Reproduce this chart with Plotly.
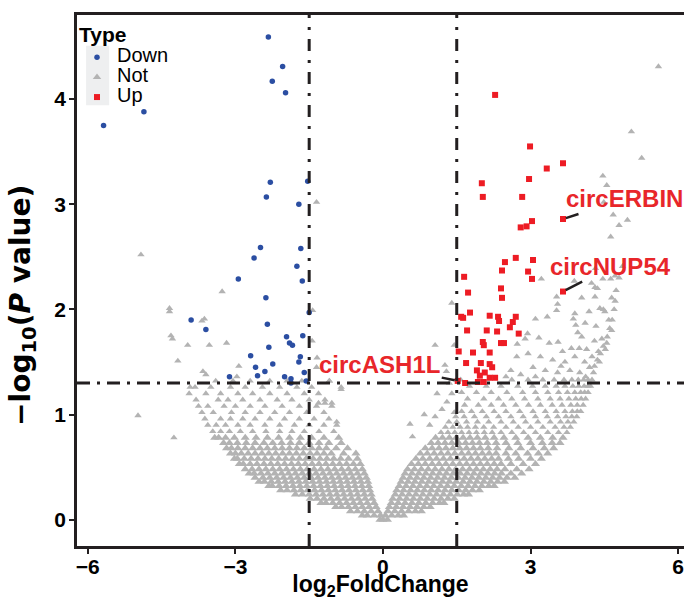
import plotly.graph_objects as go

# ---------------- data ----------------
down_x = [-2.33, -2.04, -2.25, -1.98, -4.86, -5.68, -2.29, -1.53, -2.37, -1.71, -2.49, -1.67, -2.62,
          -1.75, -2.94, -1.64, -2.38, -1.50, -3.90, -2.35, -3.60, -1.96, -1.63, -1.90, -1.84, -2.32,
          -2.69, -1.68, -1.71, -2.24, -2.59, -2.40, -2.55, -1.60, -3.12, -2.00, -1.87, -1.87, -1.56]
down_y = [4.59, 4.31, 4.17, 4.06, 3.88, 3.75, 3.21, 3.22, 3.07, 3.00, 2.59, 2.58, 2.49,
          2.41, 2.29, 2.27, 2.11, 1.97, 1.90, 1.86, 1.81, 1.74, 1.75, 1.68, 1.66, 1.64,
          1.56, 1.55, 1.50, 1.48, 1.45, 1.41, 1.37, 1.40, 1.36, 1.36, 1.34, 1.30, 1.32]

up_x = [2.28, 2.99, 3.66, 3.33, 2.97, 2.01, 2.03, 2.83, 3.66, 3.03, 2.92, 2.80, 2.70, 2.48,
        3.05, 2.42, 2.95, 1.65, 3.03, 1.73, 2.40, 2.42, 3.66, 1.77, 1.59, 1.63, 2.17, 2.34,
        2.36, 2.70, 2.64, 2.58, 1.71, 2.11, 2.32, 2.76, 2.03, 2.05, 2.40, 2.46, 1.54, 1.83,
        2.17, 1.69, 1.99, 2.17, 2.22, 1.91, 2.07, 1.97, 2.17, 2.28, 1.93, 2.05, 1.52, 1.67]
up_y = [4.04, 3.55, 3.39, 3.34, 3.24, 3.20, 3.07, 3.07, 2.86, 2.84, 2.79, 2.78, 2.49, 2.45,
        2.47, 2.37, 2.36, 2.31, 2.29, 2.16, 2.20, 2.11, 2.17, 1.97, 1.93, 1.92, 1.94, 1.93,
        1.89, 1.93, 1.88, 1.83, 1.80, 1.80, 1.79, 1.77, 1.69, 1.66, 1.68, 1.68, 1.60, 1.59,
        1.59, 1.49, 1.49, 1.48, 1.45, 1.42, 1.40, 1.37, 1.35, 1.35, 1.31, 1.31, 1.32, 1.30]

# "Not" points, right half, read row by row: (-log10 P level, log2FC positions)
not_rows_right = [
    (0.00, [0.0, 0.09]),
    (0.04, [0.05, 0.18, 0.31, 0.42]),
    (0.08, [0.1, 0.24, 0.38, 0.52, 0.66, 0.78]),
    (0.12, [0.13, 0.27, 0.41, 0.55, 0.69, 0.83, 0.96]),
    (0.16, [0.17, 0.31, 0.45, 0.59, 0.73, 0.87, 1.01, 1.15, 1.24]),
    (0.20, [0.2, 0.34, 0.48, 0.62, 0.76, 0.9, 1.04, 1.18, 1.32, 1.45]),
    (0.24, [0.25, 0.39, 0.53, 0.67, 0.81, 0.95, 1.09, 1.23, 1.37, 1.51, 1.64, 1.74]),
    (0.28, [0.28, 0.42, 0.56, 0.7, 0.84, 0.98, 1.12, 1.26, 1.4, 1.54, 1.68, 1.82, 1.96]),
    (0.32, [0.33, 0.47, 0.61, 0.75, 0.89, 1.03, 1.17, 1.31, 1.45, 1.59, 1.73, 1.87, 2.01, 2.15, 2.26]),
    (0.36, [0.37, 0.51, 0.65, 0.79, 0.93, 1.07, 1.21, 1.35, 1.49, 1.63, 1.77, 1.91, 2.05, 2.19, 2.33, 2.47]),
    (0.40, [0.41, 0.55, 0.69, 0.83, 0.97, 1.11, 1.25, 1.39, 1.53, 1.67, 1.81, 1.95, 2.09, 2.23, 2.37, 2.52, 2.68]),
    (0.44, [0.45, 0.59, 0.73, 0.87, 1.01, 1.15, 1.29, 1.43, 1.57, 1.71, 1.85, 1.99, 2.13, 2.27, 2.41, 2.6, 2.82]),
    (0.48, [0.5, 0.64, 0.78, 0.92, 1.06, 1.2, 1.34, 1.48, 1.62, 1.76, 1.9, 2.04, 2.18, 2.32, 2.48, 2.72, 2.97]),
    (0.53, [0.58, 0.72, 0.86, 1.0, 1.14, 1.28, 1.42, 1.56, 1.7, 1.84, 1.98, 2.12, 2.26, 2.4, 2.6, 2.85, 3.1]),
    (0.58, [0.67, 0.81, 0.95, 1.09, 1.23, 1.37, 1.51, 1.65, 1.79, 1.93, 2.07, 2.21, 2.35, 2.55, 2.76, 3.0, 3.22]),
    (0.63, [0.76, 0.9, 1.04, 1.18, 1.32, 1.46, 1.6, 1.74, 1.88, 2.02, 2.16, 2.3, 2.5, 2.7, 2.94, 3.16, 3.35]),
    (0.68, [0.86, 1.0, 1.14, 1.28, 1.42, 1.56, 1.7, 1.84, 1.98, 2.14, 2.32, 2.56, 2.8, 3.05, 3.28, 3.47]),
    (0.73, [0.98, 1.12, 1.26, 1.4, 1.54, 1.68, 1.82, 1.96, 2.12, 2.3, 2.5, 2.74, 3.0, 3.24, 3.44, 3.6]),
    (0.78, [1.07, 1.21, 1.35, 1.49, 1.63, 1.77, 1.92, 2.08, 2.26, 2.46, 2.7, 2.95, 3.2, 3.45, 3.66]),
    (0.83, [1.18, 1.32, 1.46, 1.6, 1.75, 1.9, 2.06, 2.22, 2.4, 2.62, 2.86, 3.1, 3.35, 3.57, 3.74]),
    (0.88, [1.27, 1.42, 1.57, 1.72, 1.88, 2.05, 2.25, 2.5, 2.75, 3.0, 3.25, 3.5, 3.68, 3.81]),
    (0.93, [1.34, 1.5, 1.7, 1.92, 2.15, 2.4, 2.65, 2.9, 3.15, 3.4, 3.61, 3.76, 3.88]),
    (0.98, [1.48, 1.65, 1.86, 2.1, 2.35, 2.6, 2.85, 3.1, 3.34, 3.55, 3.72, 3.84, 3.94]),
    (1.03, [1.6, 1.8, 2.02, 2.26, 2.5, 2.78, 3.05, 3.3, 3.52, 3.7, 3.85, 3.95, 4.02]),
    (1.09, [1.66, 1.94, 2.2, 2.45, 2.7, 2.96, 3.2, 3.44, 3.64, 3.82, 3.95, 4.07]),
    (1.15, [1.72, 2.05, 2.35, 2.62, 2.88, 3.15, 3.4, 3.6, 3.78, 3.92, 4.03, 4.12]),
    (1.21, [1.6, 1.9, 2.2, 2.52, 2.84, 3.1, 3.35, 3.57, 3.75, 3.9, 4.02, 4.1, 4.17]),
    (1.27, [1.76, 2.1, 2.4, 2.74, 3.04, 3.3, 3.52, 3.7, 3.86, 3.98, 4.09, 4.17, 4.22]),
    (1.33, [1.58, 2.62, 2.95, 3.25, 3.48, 3.68, 3.84, 3.97, 4.08, 4.17, 4.25]),
]

# "Not" points, left half, read row by row
not_rows_left = [
    (0.00, [-0.06]),
    (0.04, [-0.05, -0.18, -0.32, -0.42]),
    (0.08, [-0.1, -0.24, -0.38, -0.52, -0.66]),
    (0.12, [-0.14, -0.28, -0.42, -0.56, -0.7, -0.84, -0.96]),
    (0.16, [-0.18, -0.32, -0.46, -0.6, -0.74, -0.88, -1.02, -1.16, -1.26]),
    (0.20, [-0.22, -0.36, -0.5, -0.64, -0.78, -0.92, -1.06, -1.2, -1.34, -1.48]),
    (0.24, [-0.24, -0.38, -0.52, -0.66, -0.8, -0.94, -1.08, -1.22, -1.36, -1.5, -1.64, -1.78]),
    (0.28, [-0.27, -0.41, -0.55, -0.69, -0.83, -0.97, -1.11, -1.25, -1.39, -1.53, -1.67, -1.81, -1.95, -2.08]),
    (0.32, [-0.29, -0.43, -0.57, -0.71, -0.85, -0.99, -1.13, -1.27, -1.41, -1.55, -1.69, -1.83, -1.97, -2.11, -2.25, -2.32]),
    (0.36, [-0.31, -0.45, -0.59, -0.73, -0.87, -1.01, -1.15, -1.29, -1.43, -1.57, -1.71, -1.85, -1.99, -2.13, -2.27, -2.41, -2.52]),
    (0.40, [-0.34, -0.48, -0.62, -0.76, -0.9, -1.04, -1.18, -1.32, -1.46, -1.6, -1.74, -1.88, -2.02, -2.16, -2.3, -2.44, -2.6]),
    (0.44, [-0.38, -0.52, -0.66, -0.8, -0.94, -1.08, -1.22, -1.36, -1.5, -1.64, -1.78, -1.92, -2.06, -2.2, -2.34, -2.48, -2.62, -2.72]),
    (0.48, [-0.42, -0.56, -0.7, -0.84, -0.98, -1.12, -1.26, -1.4, -1.54, -1.68, -1.82, -1.96, -2.1, -2.24, -2.38, -2.52, -2.66, -2.8]),
    (0.53, [-0.46, -0.6, -0.74, -0.88, -1.02, -1.16, -1.3, -1.44, -1.58, -1.72, -1.86, -2.0, -2.14, -2.28, -2.42, -2.56, -2.7, -2.84, -2.92]),
    (0.58, [-0.52, -0.7, -0.86, -1.0, -1.14, -1.28, -1.42, -1.56, -1.7, -1.84, -1.98, -2.12, -2.26, -2.4, -2.54, -2.68, -2.82, -2.96, -3.02]),
    (0.63, [-0.55, -0.8, -1.05, -1.2, -1.34, -1.48, -1.62, -1.76, -1.9, -2.04, -2.18, -2.32, -2.46, -2.6, -2.74, -2.88, -3.0, -3.1]),
    (0.68, [-0.72, -0.95, -1.15, -1.3, -1.45, -1.6, -1.75, -1.9, -2.05, -2.2, -2.35, -2.5, -2.65, -2.8, -2.95, -3.08, -3.18]),
    (0.73, [-0.85, -1.1, -1.3, -1.5, -1.7, -1.88, -2.06, -2.24, -2.42, -2.6, -2.78, -2.96, -3.12, -3.24]),
    (0.78, [-0.9, -1.2, -1.45, -1.68, -1.9, -2.12, -2.35, -2.58, -2.8, -3.02, -3.2, -3.34, -3.42]),
    (0.84, [-1.0, -1.3, -1.6, -1.85, -2.1, -2.38, -2.65, -2.9, -3.12, -3.3, -3.46]),
    (0.90, [-0.94, -1.2, -1.5, -1.8, -2.1, -2.4, -2.7, -2.95, -3.2, -3.39, -3.56]),
    (0.96, [-1.1, -1.4, -1.7, -2.0, -2.3, -2.6, -2.85, -3.1, -3.3, -3.62]),
    (1.02, [-1.2, -1.55, -1.9, -2.2, -2.5, -2.8, -3.08, -3.45, -3.68]),
    (1.08, [-1.04, -1.35, -1.7, -2.05, -2.4, -2.7, -3.0, -3.23, -3.56, -3.75]),
    (1.14, [-1.18, -1.5, -1.85, -2.15, -2.5, -2.85, -3.15, -3.35, -3.8]),
    (1.20, [-1.31, -1.6, -1.95, -2.3, -2.65, -2.95, -3.3, -3.6, -3.94]),
    (1.26, [-0.85, -1.45, -1.75, -2.1, -2.45, -2.8, -3.1, -3.5, -3.82, -3.92]),
    (1.32, [-1.09, -1.65, -1.95, -2.3, -2.7, -3.05, -3.4]),
]

# scattered "Not" points outside the dense cloud
not_extra_x = [3.22, 3.89, 4.24, 4.31, 4.36, 4.47, 4.63, 4.72, 4.80, 4.32, 4.87, 4.63, 4.47, 4.55, 4.49,
               4.68, 4.80, 4.97, 5.05, 5.26, 5.60, 3.53, 3.55, 3.53, 4.04, 4.31, 4.65, 4.48, 4.19, 3.90,
               4.41, 4.59, 4.51, 3.34, 3.10, 3.87, 3.92, 4.11, 4.33, 4.65, 3.96, 4.04, 2.94, 2.73, 3.17,
               3.38, 3.56, 3.83, 3.99, 4.14, 4.30, 4.45, 4.55, 3.65, 2.89, 2.72, 2.95, 3.20, 3.45, 3.70,
               3.90, 4.10, 4.25, 4.38, 3.05, 3.30, 3.55, 3.80, 4.00, 4.20, 4.28, 2.60, 2.80, 2.50, 3.10,
               3.62, 4.12, 4.30, 4.36, 4.42, 4.48, 4.56, 4.61, 4.66, 4.70, 4.72, 4.74, 4.40, 4.52,
               1.40, 1.45, 1.26, 1.06, 1.29, 0.55, 0.60, 0.84, 1.06, 1.20, 1.30, 1.40, 1.45, 0.95,
               1.10, 1.35,
               -4.92, -1.35, -3.27, -4.34, -4.34, -1.43, -3.68, -3.63, -4.31, -4.28, -1.44, -3.97,
               -3.53, -3.18, -1.34, -4.17, -2.93, -3.66, -3.60, -1.35, -2.97, -1.09, -0.85, -4.98,
               -4.25, -0.94, -1.04, -1.18, -1.31]
not_extra_y = [2.29, 2.27, 2.25, 2.21, 2.20, 2.29, 2.29, 2.32, 2.30, 2.39, 2.41, 2.69, 3.27, 3.18, 3.02,
               2.90, 2.80, 2.85, 3.69, 3.44, 4.31, 2.12, 2.05, 1.99, 2.11, 2.12, 2.11, 2.00, 1.98, 1.96,
               2.01, 1.90, 1.98, 1.93, 1.91, 1.91, 1.85, 1.87, 1.84, 1.80, 1.78, 1.74, 1.77, 1.67, 1.73,
               1.68, 1.69, 1.63, 1.63, 1.62, 1.70, 1.72, 1.68, 1.60, 1.72, 1.55, 1.58, 1.55, 1.52, 1.50,
               1.55, 1.50, 1.55, 1.60, 1.45, 1.42, 1.40, 1.42, 1.40, 1.45, 1.40, 1.42, 1.38, 1.36, 1.36,
               1.46, 1.36, 1.46, 1.52, 1.58, 1.65, 1.74, 1.82, 1.90, 2.00, 2.08, 2.18, 1.50, 1.62,
               2.06, 1.66, 1.47, 1.66, 1.41, 0.91, 0.79, 1.00, 0.98, 1.05, 1.12, 1.20, 1.02, 0.90,
               1.20, 1.30,
               2.52, 3.02, 2.17, 2.01, 1.98, 1.99, 1.89, 1.91, 1.75, 1.72, 1.70, 1.66,
               1.66, 1.68, 1.54, 1.51, 1.46, 1.41, 1.38, 1.45, 1.36, 1.32, 1.24, 0.99,
               0.78, 0.93, 1.11, 1.11, 1.11]

labels = ["circERBIN", "circNUP54", "circASH1L"]
label_x = [3.66, 3.66, 1.52]
label_y = [2.86, 2.17, 1.32]

x_ticks = [-6, -3, 0, 3, 6]
y_ticks = [0, 1, 2, 3, 4]
fc_cut = 1.5
p_cut = 1.301

# ---------------- build ----------------
FONT = "Liberation Sans, Arial, Helvetica, sans-serif"
WIDE = "DejaVu Sans, Liberation Sans, Arial, sans-serif"
BLUE = "#2b4ea2"
RED = "#ed1c24"
GREY = "#b3b3b3"
INK = "#231f20"

not_x, not_y, not_size = [], [], []
for yy, xs in not_rows_right + not_rows_left:
    for xx in xs:
        not_x.append(xx)
        not_y.append(yy)
        # overplotted (dense) part of the cloud drawn a touch larger so it reads as solid
        not_size.append(8 if yy < 0.8 else 6.5)
not_x += not_extra_x
not_y += not_extra_y
not_size += [6.5] * len(not_extra_x)


def legend_name(t):
    return '<span style="font-size:20px">%s</span>' % t


fig = go.Figure()
fig.add_trace(go.Scatter(x=not_x, y=not_y, mode="markers", name=legend_name("Not"), legendrank=2,
                         marker=dict(symbol="triangle-up", size=not_size, color=GREY, opacity=1,
                                     line=dict(width=0))))
fig.add_trace(go.Scatter(x=down_x, y=down_y, mode="markers", name=legend_name("Down"), legendrank=1,
                         marker=dict(symbol="circle", size=5.5, color=BLUE, opacity=1, line=dict(width=0))))
fig.add_trace(go.Scatter(x=up_x, y=up_y, mode="markers", name=legend_name("Up"), legendrank=3,
                         marker=dict(symbol="square", size=6, color=RED, opacity=1, line=dict(width=0))))

dash_v = "12px,9px,3px,9px"
dash_h = "13px,7px,3px,7px"
for xv in (-fc_cut, fc_cut):
    fig.add_shape(type="line", x0=xv, x1=xv, xref="x", y0=0, y1=1, yref="paper",
                  line=dict(color=INK, width=3, dash=dash_v))
fig.add_shape(type="line", x0=0, x1=1, xref="paper", y0=p_cut, y1=p_cut, yref="y",
              line=dict(color=INK, width=3, dash=dash_h))

# grey key background of the legend
fig.add_shape(type="rect", xref="paper", yref="paper", x0=0.015, x1=0.053, y0=0.830, y1=0.942,
              fillcolor="#eeeff0", line=dict(width=0), layer="below")

offsets = [(62, -20), (48, -25), (-78, -16)]
for t, lx, ly, (ax, ay) in zip(labels, label_x, label_y, offsets):
    fig.add_annotation(x=lx, y=ly, xref="x", yref="y", text="<b>%s</b>" % t, showarrow=True,
                       arrowhead=0, arrowwidth=2.5, arrowcolor=INK, ax=ax, ay=ay, standoff=3,
                       font=dict(family=FONT, size=24, color="#e8262a"))

# y-axis title (placed as rotated text)
fig.add_annotation(x=-0.089, y=0.454, xref="paper", yref="paper", showarrow=False, textangle=-90,
                   xanchor="center", yanchor="middle",
                   text="<b>\u2212log<sub>10</sub>(<i>P</i> value)</b>",
                   font=dict(family=WIDE, size=28, color="black"))

fig.update_layout(
    width=684, height=600,
    margin=dict(l=77, r=0, t=15, b=54),
    paper_bgcolor="white", plot_bgcolor="white",
    font=dict(family=FONT, color="black"),
    showlegend=True,
    legend=dict(x=0.0, y=1.0, xanchor="left", yanchor="top", bgcolor="rgba(0,0,0,0)",
                title=dict(text="<b>Type</b>", font=dict(size=21, family=FONT)),
                font=dict(size=13, family=FONT), itemsizing="trace"),
    xaxis=dict(range=[-6.22, 6.12], tickvals=x_ticks,
               ticktext=["<b>%s</b>" % ("\u2212%d" % -v if v < 0 else str(v)) for v in x_ticks],
               tickfont=dict(size=21, family=FONT), ticks="outside", ticklen=5, tickwidth=2,
               tickcolor=INK, showline=True, linecolor=INK, linewidth=2.5, mirror=True,
               showgrid=False, zeroline=False, automargin=False, ticklabelstandoff=-5,
               title=dict(text="<b>log<sub>2</sub>FoldChange</b>", font=dict(size=23, family=FONT),
                          standoff=6)),
    yaxis=dict(range=[-0.25, 4.8], tickvals=y_ticks,
               ticktext=["<b>%d</b>" % v for v in y_ticks],
               tickfont=dict(size=21, family=FONT), ticks="outside", ticklen=5, tickwidth=2,
               tickcolor=INK, showline=True, linecolor=INK, linewidth=2.5, mirror=False,
               showgrid=False, zeroline=False, automargin=False, ticklabelstandoff=-1),
)

fig.write_html("out.html", post_script="document.body.style.margin='0';",
               config={"displayModeBar": False})
